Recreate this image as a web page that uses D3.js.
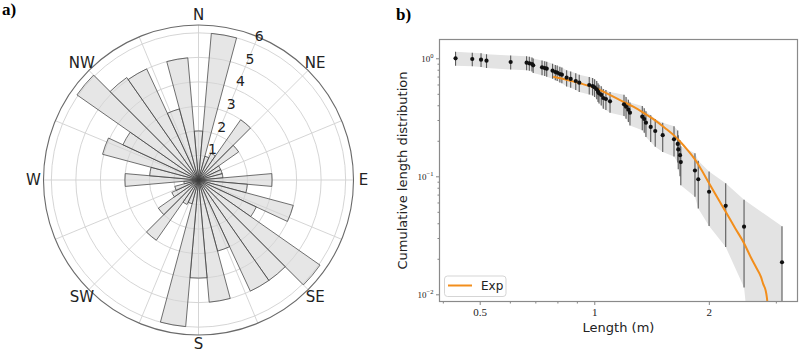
<!DOCTYPE html>
<html><head><meta charset="utf-8">
<script src="https://cdn.jsdelivr.net/npm/d3@7"></script>
<style>body{margin:0;background:#fff}svg{display:block}</style>
</head><body><svg id="c" width="800" height="353"></svg>
<script>
// ---------- data: rose diagram (panel a) ----------
const roseAngles = [0,10,20,30,40,50,60,70,80,90,100,110,120,130,140,150,160,170,
                    180,190,200,210,220,230,240,250,260,270,280,290,300,310,320,330,340,350];
const roseCounts = [2.0,6.0,1.0,1.2,3.0,2.0,1.0,1.0,1.0,3.0,2.0,4.0,2.6,6.05,5.0,5.0,3.0,5.0,
                    4.0,6.0,1.0,1.1,3.0,2.0,1.2,1.0,0.6,3.0,2.0,4.05,3.4,6.05,5.1,5.0,3.0,5.0];
const dirLabels = ["N","NE","E","SE","S","SW","W","NW"];
const radialTicks = [1,2,3,4,5,6];

// ---------- data: cumulative length distribution (panel b) ----------
const lengths = [0.432,0.478,0.504,0.521,0.603,0.664,0.675,0.686,0.691,0.729,0.741,0.750,0.777,0.790,
  0.799,0.812,0.822,0.846,0.867,0.894,0.913,0.970,0.990,1.002,1.015,1.023,1.029,1.043,1.056,1.073,
  1.100,1.197,1.212,1.229,1.241,1.337,1.353,1.367,1.407,1.446,1.513,1.620,1.657,1.662,1.680,1.688,
  1.839,1.876,2.003,2.215,2.475,3.114];
const cumDist = [1.000,0.986,0.973,0.954,0.930,0.918,0.907,0.895,0.872,0.839,0.827,0.816,0.785,0.765,
  0.755,0.736,0.726,0.685,0.668,0.642,0.621,0.594,0.582,0.568,0.546,0.521,0.505,0.489,0.461,0.452,
  0.432,0.407,0.389,0.367,0.346,0.320,0.306,0.285,0.262,0.242,0.223,0.206,0.188,0.169,0.151,0.132,
  0.112,0.0944,0.0740,0.0562,0.0374,0.0187];
const cumErr = [0.135,0.130,0.130,0.128,0.126,0.125,0.124,0.123,0.122,0.120,0.118,0.117,0.115,0.114,
  0.113,0.112,0.111,0.108,0.106,0.104,0.103,0.100,0.099,0.098,0.096,0.094,0.092,0.091,0.088,0.087,
  0.086,0.083,0.081,0.079,0.077,0.074,0.072,0.070,0.067,0.064,0.062,0.059,0.057,0.054,0.051,0.048,
  0.045,0.041,0.036,0.031,0.026,0.019];
const fitLength = [0.78,0.85,0.917,0.994,1.06,1.122,1.19,1.266,1.345,1.43,1.534,1.63,1.68,1.75,1.839,
  1.89,2.0,2.1,2.215,2.35,2.475,2.58,2.67,2.74,2.78,2.82,2.84,2.85];
const fitValue = [0.698,0.655,0.614,0.568,0.52,0.473,0.43,0.389,0.347,0.305,0.257,0.218,0.197,0.170,0.139,
  0.121,0.088,0.067,0.050,0.036,0.0271,0.0205,0.0166,0.0141,0.0122,0.0108,0.0095,0.0086];
const xTickValues = [0.5,1,2];
const xTickLabels = ["0.5","1","2"];
const yTickValues = [1,0.1,0.01];
const yTickExponents = ["0","\u22121","\u22122"];

const svg = d3.select("#c");

// ================= panel a =================
const cx = 198.5, cy = 180;
const rS = d3.scaleLinear().domain([0, 6.32]).range([0, 155]);
const rose = svg.append("g").attr("transform", `translate(${cx},${cy})`);
const rad = a => a * Math.PI / 180;

rose.selectAll("circle.ring").data(radialTicks).join("circle")
  .attr("r", d => rS(d)).attr("fill", "none").attr("stroke", "#d0d0d0").attr("stroke-width", 0.9);
const spokes = d3.range(0, 360, 22.5);
rose.selectAll("line.spoke").data(spokes).join("line")
  .attr("x1", 0).attr("y1", 0)
  .attr("x2", d => rS(6.32) * Math.sin(rad(d)))
  .attr("y2", d => -rS(6.32) * Math.cos(rad(d)))
  .attr("stroke", "#d0d0d0").attr("stroke-width", 0.9);

const arc = d3.arc().innerRadius(0);
rose.selectAll("path.bar").data(roseAngles.map((a, i) => ({a, v: roseCounts[i]}))).join("path")
  .attr("d", d => arc({outerRadius: rS(d.v), startAngle: rad(d.a - 5), endAngle: rad(d.a + 5)}))
  .attr("fill", "#d6d6d6").attr("fill-opacity", 0.6)
  .attr("stroke", "#3a3a3a").attr("stroke-opacity", 0.8).attr("stroke-width", 0.9);

rose.append("circle").attr("r", rS(6.32)).attr("fill", "none").attr("stroke", "#6a6a6a").attr("stroke-width", 1.1);

rose.selectAll("text.rl").data(radialTicks).join("text")
  .attr("x", d => rS(d) * Math.sin(rad(22.5)) + 4.5)
  .attr("y", d => -rS(d) * Math.cos(rad(22.5)) - 8)
  .attr("text-anchor", "middle").attr("dominant-baseline", "central")
  .attr("font-family", "DejaVu Sans").attr("font-size", 14).attr("fill", "#222")
  .text(d => d);

rose.selectAll("text.dl").data(dirLabels).join("text")
  .attr("x", (d, i) => 165 * Math.sin(rad(i * 45)))
  .attr("y", (d, i) => -165 * Math.cos(rad(i * 45)) - (i === 4 ? 1.5 : 0))
  .attr("text-anchor", "middle").attr("dominant-baseline", "central")
  .attr("font-family", "DejaVu Sans").attr("font-size", 15).attr("fill", "#222")
  .text(d => d);

svg.append("text").attr("x", 2).attr("y", 15).attr("font-family", "Liberation Serif")
  .attr("font-weight", "bold").attr("font-size", 17).text("a)");
svg.append("text").attr("x", 396).attr("y", 20).attr("font-family", "Liberation Serif")
  .attr("font-weight", "bold").attr("font-size", 17).text("b)");

// ================= panel b =================
const L = 439.5, R = 797.5, T = 39.5, B = 301.5;
const xS = d3.scaleLog().domain([0.392, 3.42]).range([L, R]);
const yS = d3.scaleLog().domain([0.00869, 1.443]).range([B, T]);

svg.append("clipPath").attr("id", "clipB").append("rect")
  .attr("x", L).attr("y", T).attr("width", R - L).attr("height", B - T);
const plot = svg.append("g").attr("clip-path", "url(#clipB)");

const pts = lengths.map((x, i) => ({x, y: cumDist[i], e: cumErr[i]}));
const floorV = 1e-5;

plot.append("path").datum(pts)
  .attr("d", d3.area().x(d => xS(d.x))
    .y0(d => yS(Math.max(d.y - d.e, floorV))).y1(d => yS(d.y + d.e)))
  .attr("fill", "#e3e3e3").attr("stroke", "none");

plot.selectAll("line.eb").data(pts).join("line")
  .attr("x1", d => xS(d.x)).attr("x2", d => xS(d.x))
  .attr("y1", d => yS(Math.max(d.y - d.e, floorV))).attr("y2", d => yS(d.y + d.e))
  .attr("stroke", "#5a5a5a").attr("stroke-width", 1.1);

plot.append("path").datum(fitLength.map((x, i) => ({x, y: fitValue[i]})))
  .attr("d", d3.line().x(d => xS(d.x)).y(d => yS(d.y)).curve(d3.curveMonotoneX))
  .attr("fill", "none").attr("stroke", "#f28e1c").attr("stroke-width", 2);

plot.selectAll("circle.pt").data(pts).join("circle")
  .attr("cx", d => xS(d.x)).attr("cy", d => yS(d.y)).attr("r", 2.1).attr("fill", "#111");

const xMinor = [0.4,0.6,0.7,0.8,0.9,3];
const yMinor = [];
[0.01, 0.1, 1].forEach(dec => { for (let k = 2; k <= 9; k++) { const v = dec * k; if (v > 0.00869 && v < 1.443) yMinor.push(v); } });

const gx = svg.append("g").attr("transform", `translate(0,${B})`);
gx.call(d3.axisBottom(xS).tickValues(xTickValues).tickSize(3.5).tickPadding(3)
  .tickFormat((d, i) => xTickLabels[i]));
const gxm = svg.append("g").attr("transform", `translate(0,${B})`);
gxm.call(d3.axisBottom(xS).tickValues(xMinor).tickSize(2).tickFormat(() => ""));

const gy = svg.append("g").attr("transform", `translate(${L},0)`);
gy.call(d3.axisLeft(yS).tickValues(yTickValues).tickSize(3.5).tickPadding(3).tickFormat(() => ""));
const gym = svg.append("g").attr("transform", `translate(${L},0)`);
gym.call(d3.axisLeft(yS).tickValues(yMinor).tickSize(2).tickFormat(() => ""));

[gx, gxm, gy, gym].forEach(g => {
  g.select(".domain").remove();
  g.selectAll(".tick line").attr("stroke", "#666").attr("stroke-width", 0.8);
});
gx.selectAll(".tick text").attr("font-family", "Liberation Serif").attr("font-size", 11).attr("fill", "#222");

gy.selectAll(".tick").each(function(d, i) {
  const t = d3.select(this).select("text").attr("font-family", "Liberation Serif")
    .attr("font-size", 9).attr("fill", "#222").attr("dy", "0.35em").attr("x", -6);
  t.text(null);
  t.append("tspan").text("10");
  t.append("tspan").attr("font-size", 6.5).attr("dy", "-0.55em").text(yTickExponents[i]);
});

svg.append("rect").attr("x", L).attr("y", T).attr("width", R - L).attr("height", B - T)
  .attr("fill", "none").attr("stroke", "#8a8a8a").attr("stroke-width", 1.2);

svg.append("text").attr("x", 618.5).attr("y", 327).attr("text-anchor", "middle")
  .attr("dominant-baseline", "central").attr("font-family", "DejaVu Sans").attr("font-size", 13)
  .attr("fill", "#222").text("Length (m)");
svg.append("text").attr("transform", "translate(402,170.5) rotate(-90)").attr("text-anchor", "middle")
  .attr("dominant-baseline", "central").attr("font-family", "DejaVu Sans").attr("font-size", 13)
  .attr("fill", "#222").text("Cumulative length distribution");

const lg = svg.append("g");
lg.append("rect").attr("x", 444.5).attr("y", 276).attr("width", 61.5).attr("height", 20.5).attr("rx", 3)
  .attr("fill", "#fff").attr("fill-opacity", 0.85).attr("stroke", "#d0d0d0").attr("stroke-width", 0.9);
lg.append("line").attr("x1", 448).attr("x2", 472).attr("y1", 285.5).attr("y2", 285.5)
  .attr("stroke", "#f28e1c").attr("stroke-width", 2);
lg.append("text").attr("x", 481).attr("y", 286).attr("dominant-baseline", "central")
  .attr("font-family", "DejaVu Sans").attr("font-size", 12).attr("fill", "#222").text("Exp");
</script></body></html>
